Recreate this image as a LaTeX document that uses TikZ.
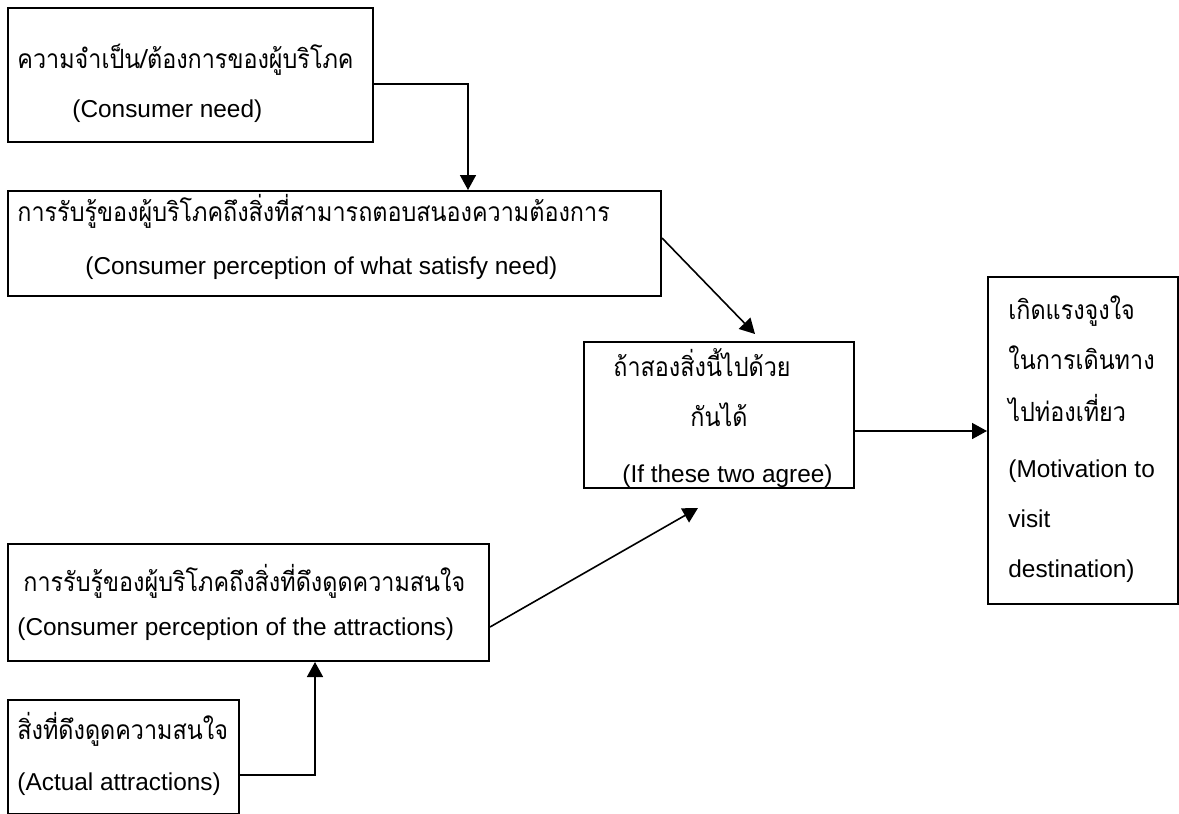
\documentclass[tikz,border=0pt]{standalone}
\usepackage{fontspec}
\usepackage{tikz}
\usetikzlibrary{arrows.meta}
\setmainfont{Liberation Sans}
\newfontfamily\thaifont[Script=Thai, FakeStretch=0.885]{Loma}
\tikzset{
    box/.style={
           rectangle,
           draw=black, line width=1pt,
           inner sep=0pt,
           anchor=north west,
           },
    en/.style={anchor=base west, inner sep=0pt, font=\fontsize{12.2}{14}\selectfont},
    th/.style={anchor=base west, inner sep=0pt, font=\thaifont\fontsize{13.2}{15}\selectfont},
    link/.style={line width=0.8pt, ->},
}

\begin{document}
\begin{tikzpicture}[x=0.5pt, y=-0.5pt, >={Triangle[length=7.5pt,width=8pt]}]
    \useasboundingbox (0,0) rectangle (1179,814);

    % the boxes (size in pt, placed at their top left corner)
    \node[box, minimum width=182.5pt, minimum height=67pt] (need) at (7,7) {};
    \node[box, minimum width=326.5pt, minimum height=52.5pt] (percNeed) at (7,190) {};
    \node[box, minimum width=135pt, minimum height=73pt] (agree) at (583,341) {};
    \node[box, minimum width=95pt, minimum height=163.5pt] (motive) at (987,276) {};
    \node[box, minimum width=240.5pt, minimum height=58.5pt] (percAttr) at (7,543) {};
    \node[box, minimum width=115.5pt, minimum height=57pt] (actual) at (7,699) {};

    % texts of the boxes
    \node[th] (needTh) at (17,68) {ความจำเป็น/ต้องการของผู้บริโภค};
    \node[en] (needEn) at (72,117) {(Consumer need)};

    \node[th] (percNeedTh) at (17,221) {การรับรู้ของผู้บริโภคถึงสิ่งที่สามารถตอบสนองความต้องการ};
    \node[en] (percNeedEn) at (85,274) {(Consumer perception of what satisfy need)};

    \node[th] (agreeTh) at (613,376) {ถ้าสองสิ่งนี้ไปด้วย};
    \node[th] (agreeThB) at (690,426) {กันได้};
    \node[en] (agreeEn) at (622,482) {(If these two agree)};

    \node[th] (motiveTh) at (1008,319) {เกิดแรงจูงใจ};
    \node[th] (motiveThB) at (1008,369) {ในการเดินทาง};
    \node[th] (motiveThC) at (1008,421) {ไปท่องเที่ยว};
    \node[en] (motiveEn) at (1008,477) {(Motivation to};
    \node[en] (motiveEnB) at (1008,527) {visit};
    \node[en] (motiveEnC) at (1008,577) {destination)};

    \node[th] (percAttrTh) at (23,591) {การรับรู้ของผู้บริโภคถึงสิ่งที่ดึงดูดความสนใจ};
    \node[en] (percAttrEn) at (17,635) {(Consumer perception of the attractions)};

    \node[th] (actualTh) at (17,739) {สิ่งที่ดึงดูดความสนใจ};
    \node[en] (actualEn) at (17,790) {(Actual attractions)};

    % free ends of the two slanted arrows
    \coordinate (topIn) at (755,334);
    \coordinate (botIn) at (698,508);

    % the arrows
    \draw[link] (need.east |- 0,84) -| (468,0 |- percNeed.north);
    \draw[link] (percNeed.east |- 0,238) -- (topIn);
    \draw[link] (percAttr.east |- 0,627) -- (botIn);
    \draw[link] (agree.east |- 0,431) -- (motive.west |- 0,431);
    \draw[link] (actual.east |- 0,775) -| (315,0 |- percAttr.south);
\end{tikzpicture}
\end{document}
